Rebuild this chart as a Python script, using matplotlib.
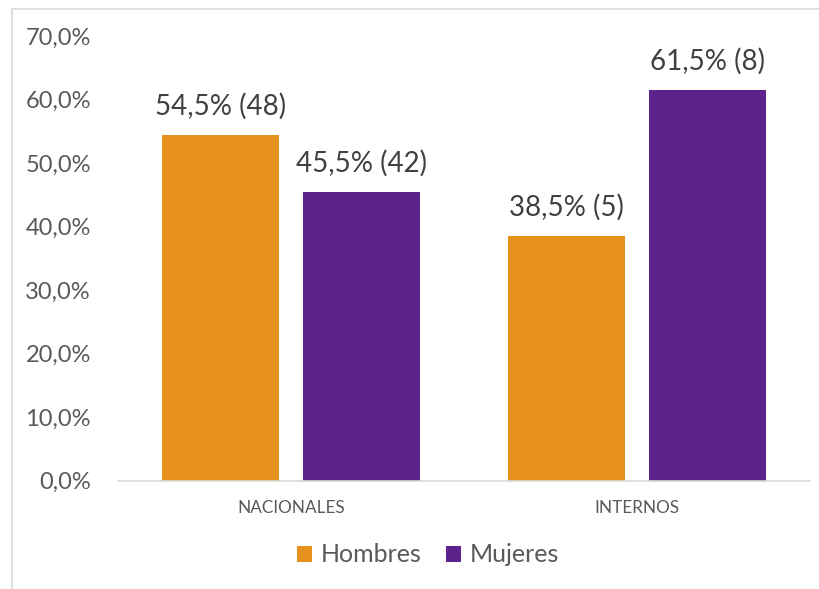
import matplotlib
matplotlib.use("Agg")
import matplotlib.pyplot as plt
from matplotlib.patches import Rectangle
import numpy as np

categories = ["NACIONALES", "INTERNOS"]
series_names = ["Hombres", "Mujeres"]
hombres = [54.5, 38.5]
mujeres = [45.5, 61.5]
hombres_n = [48, 5]
mujeres_n = [42, 8]
yticks = [0, 10, 20, 30, 40, 50, 60, 70]

colors = ["#E8921E", "#5E228C"]
plt.rcParams['font.family'] = ['Lato', 'DejaVu Sans']

W, H = 820, 589
fig = plt.figure(figsize=(W/100, H/100), dpi=100)
# outer chart border (only top/left visible in reference)
fig.patches.append(Rectangle((12/W, -0.1), 1.2, 1.1 - 9/H, transform=fig.transFigure,
                             fill=False, edgecolor="#D9D9D9", linewidth=1.2))
ax = fig.add_axes([118/W, 1 - 480.7/H, (810-118)/W, (480.7-36.2)/H])

x = np.arange(len(categories))
bw = 0.338
off = 0.204
b1 = ax.bar(x - off, hombres, bw, color=colors[0], label=series_names[0])
b2 = ax.bar(x + off, mujeres, bw, color=colors[1], label=series_names[1])

def fmt(v):
    return f"{v:.1f}".replace(".", ",")

for bars, vals, ns in ((b1, hombres, hombres_n), (b2, mujeres, mujeres_n)):
    for r, v, n in zip(bars, vals, ns):
        ax.annotate(f"{fmt(v)}% ({n})", (r.get_x() + r.get_width()/2, v),
                    xytext=(0, 11), textcoords="offset points",
                    ha="center", va="bottom", fontsize=20, color="#404040")

ax.set_xlim(-0.5, 1.5)
ax.set_ylim(0, 70)
ax.set_yticks(yticks)
ax.set_yticklabels([f"{fmt(t)}%" for t in yticks], fontsize=17, color="#595959")
ax.set_xticks(x)
ax.set_xticklabels(categories, fontsize=12.3, color="#595959")
ax.tick_params(axis="y", length=0, pad=19.5)
ax.tick_params(axis="x", length=0, pad=14)
for s in ["top", "right", "left"]:
    ax.spines[s].set_visible(False)
ax.spines["bottom"].set_color("#D9D9D9")
ax.spines["bottom"].set_linewidth(1.2)

fig.legend(handles=[b1, b2], labels=series_names, loc="center",
           bbox_to_anchor=(428/W, 1 - 555/H), ncol=2, frameon=False,
           fontsize=18, handlelength=0.6, handleheight=0.6,
           handletextpad=0.35, columnspacing=1.0, labelcolor="#595959")

fig.savefig("out.png", dpi=100)
